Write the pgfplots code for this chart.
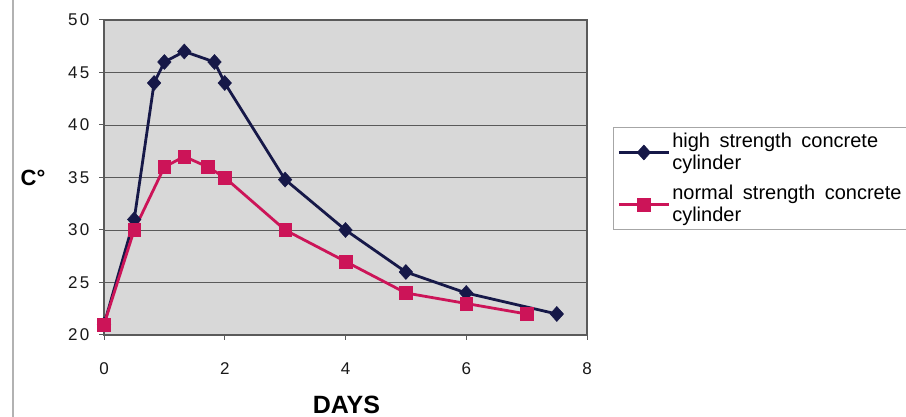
\documentclass[border=0pt]{standalone}
\usepackage{pgfplots}
\pgfplotsset{compat=1.18}
\usepackage{fontspec}
\setmainfont{Liberation Sans}
\newfontfamily\tickfont[LetterSpace=15]{Liberation Sans}
\definecolor{navy}{RGB}{22,24,72}
\definecolor{crim}{RGB}{204,20,88}
\definecolor{bgc}{RGB}{216,216,216}
\definecolor{gridc}{RGB}{90,90,90}
\newcommand\wsp{\hspace*{4pt}}
\begin{document}
\begin{tikzpicture}[x=1pt,y=1pt]
\useasboundingbox (0,0) rectangle (906,417);
\fill[white] (0,0) rectangle (906,417);
\draw[gray!60, line width=1.5pt] (13,0) -- (13,417);
\begin{axis}[
  at={(104pt,82pt)}, anchor=south west,
  scale only axis, width=483pt, height=315pt,
  xmin=0, xmax=8, ymin=20, ymax=50,
  xtick={0,2,4,6,8}, ytick={20,25,...,50},
  axis background/.style={fill=bgc},
  axis line style={draw=gridc, line width=1.6pt},
  ymajorgrids, grid style={draw=gridc, line width=0.8pt},
  tick style={draw=gridc, line width=1pt},
  tick align=outside, major tick length=5pt,
  xtick pos=bottom, ytick pos=left,
  ticklabel style={font=\tickfont\fontsize{17}{18}\selectfont, text=black!90},
  /pgf/number format/assume math mode=true,
  xticklabel style={yshift=-19pt},
  yticklabel style={xshift=-6pt},
  xlabel={\textbf{DAYS}}, xlabel style={font=\fontsize{25}{28}\selectfont, at={(axis description cs:0.502,-0.222)}, anchor=center},
  legend cell align=left,
  legend style={at={(axis description cs:1.054,0.660)}, anchor=north west,
    draw=gray!70, line width=0.8pt, fill=white, inner xsep=4pt, inner ysep=4pt,
    font=\fontsize{20}{22}\selectfont, cells={align=left}, row sep=10pt},
  legend image code/.code={\draw[#1, mark repeat=2, mark phase=2] plot coordinates {(0pt,0pt) (25pt,0pt) (50pt,0pt)};},
]
\addplot[navy, line width=2.8pt, mark=diamond*, mark size=7.5pt, mark options={solid, xscale=1.2, line width=0.5pt}]
coordinates {(0,21) (0.5,31) (0.83,44) (1.0,46) (1.33,47) (1.83,46) (2.0,44) (3,34.8) (4,30) (5,26) (6,24) (7.5,22)};
\addlegendentry{high\wsp{} strength\wsp{} concrete\\cylinder}
\addplot[crim, line width=2.8pt, mark=square*, mark size=6.3pt, mark options={solid, line width=0.5pt}]
coordinates {(0,21) (0.5,30) (1.0,36) (1.33,37) (1.72,36) (2.0,35) (3,30) (4,27) (5,24) (6,23) (7,22)};
\addlegendentry{normal\wsp{} strength\wsp{} concrete\\cylinder}
\end{axis}
\node[font=\bfseries\fontsize{22}{24}\selectfont] at (33,239) {C°};
\end{tikzpicture}
\end{document}
